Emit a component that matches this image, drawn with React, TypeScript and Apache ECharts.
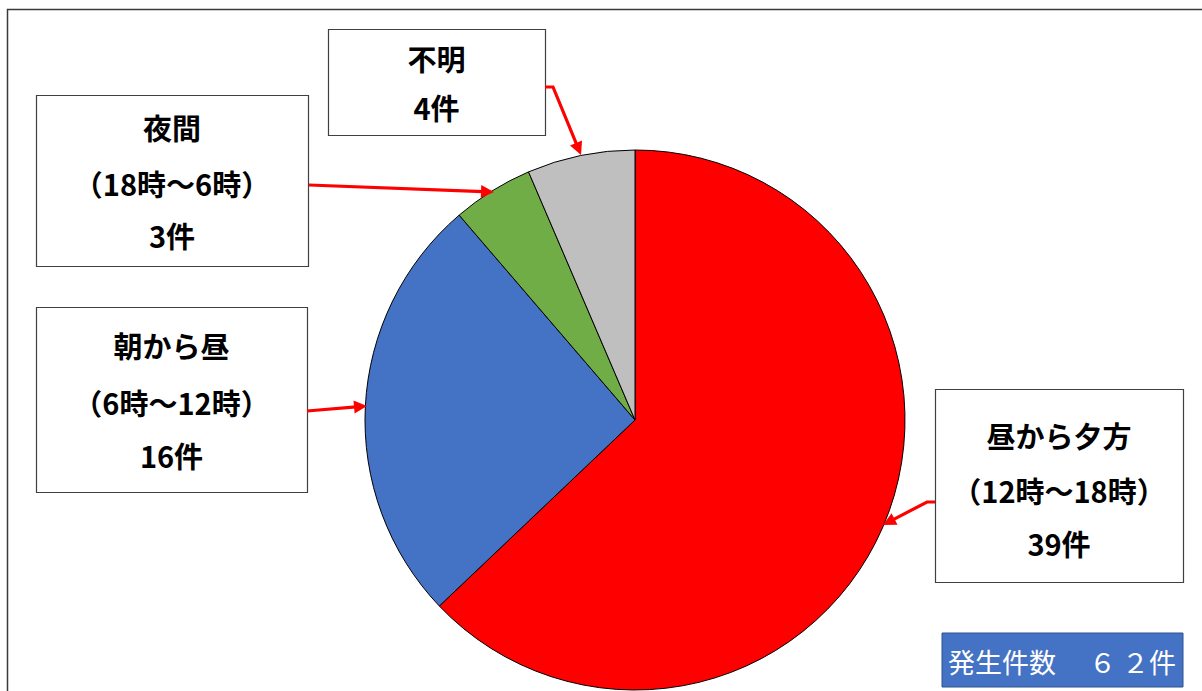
import React, { useEffect, useRef } from "react";
import * as echarts from "echarts";

const categories = ["昼から夕方", "朝から昼", "夜間", "不明"];
const timeRanges = ["（12時～18時）", "（6時～12時）", "（18時～6時）", ""];
const counts = [39, 16, 3, 4];
const colors = ["#FF0000", "#4472C4", "#70AD47", "#BFBFBF"];
const totalLabel = "発生件数";

const FONT = '"Noto Sans CJK JP", "Noto Sans", sans-serif';

// layout of annotation boxes (positions only)
const boxes = [
  { x: 935, y: 389, w: 248, h: 193, ys: [435, 490, 543], arrow: [[935, 502], [927, 502], [883, 525]] },
  { x: 36, y: 307, w: 271, h: 185, ys: [345, 402, 455], arrow: [[307, 411], [367, 406]] },
  { x: 36, y: 95, w: 272, h: 171, ys: [127, 183, 235], arrow: [[309, 185], [494, 192]] },
  { x: 328, y: 29, w: 217, h: 106, ys: [58, 107], arrow: [[545, 87], [553, 87], [581, 155]] },
];

function toFullWidth(n: number): string {
  return String(n).replace(/[0-9]/g, (d) => String.fromCharCode(d.charCodeAt(0) + 0xfee0)).split("").join(" ");
}

function arrowElements(pts: number[][]) {
  const els: any[] = [];
  const n = pts.length;
  const [x1, y1] = pts[n - 2];
  const [x2, y2] = pts[n - 1];
  const dx = x2 - x1, dy = y2 - y1;
  const len = Math.sqrt(dx * dx + dy * dy);
  const ux = dx / len, uy = dy / len;
  const L = 13, W = 6.5;
  const bx = x2 - ux * L, by = y2 - uy * L;
  const linePts = pts.slice(0, n - 1).concat([[bx + ux * 2, by + uy * 2]]);
  els.push({
    type: "polyline",
    shape: { points: linePts },
    style: { stroke: "#FF0000", lineWidth: 3.2, fill: null, lineJoin: "miter" },
    z: 10,
  });
  els.push({
    type: "polygon",
    shape: {
      points: [
        [x2, y2],
        [bx - uy * W, by + ux * W],
        [bx + uy * W, by - ux * W],
      ],
    },
    style: { fill: "#FF0000" },
    z: 10,
  });
  return els;
}

export default function App() {
  const ref = useRef<HTMLDivElement>(null);
  useEffect(() => {
    if (!ref.current) return;
    const chart = echarts.init(ref.current, undefined, { renderer: "svg" });
    const total = counts.reduce((a, b) => a + b, 0);
    const graphics: any[] = [];
    graphics.push({
      type: "rect",
      shape: { x: 7.5, y: 9.5, width: 1250, height: 720 },
      style: { fill: null, stroke: "#3a3a3a", lineWidth: 1.5 },
      z: 1,
    });
    boxes.forEach((b, i) => {
      graphics.push({
        type: "rect",
        shape: { x: b.x + 0.5, y: b.y + 0.5, width: b.w, height: b.h },
        style: { fill: "#ffffff", stroke: "#404040", lineWidth: 1.2 },
        z: 5,
      });
      const lines = [categories[i]];
      if (timeRanges[i]) lines.push(timeRanges[i]);
      lines.push(counts[i] + "件");
      lines.forEach((t, j) => {
        graphics.push({
          type: "text",
          x: b.x + b.w / 2,
          y: b.ys[j],
          style: {
            text: t,
            fill: "#000000",
            font: `bold 29px ${FONT}`,
            textAlign: "center",
            textVerticalAlign: "middle",
          },
          z: 6,
        });
      });
      arrowElements(b.arrow).forEach((e) => graphics.push(e));
    });
    graphics.push({
      type: "rect",
      shape: { x: 942, y: 633, width: 241, height: 54 },
      style: { fill: "#4472C4", stroke: "#2F528F", lineWidth: 1 },
      z: 5,
    });
    graphics.push({
      type: "text",
      x: 948,
      y: 661,
      style: {
        text: totalLabel + "　 " + toFullWidth(total) + "件",
        fill: "#ffffff",
        font: `27px ${FONT}`,
        textAlign: "left",
        textVerticalAlign: "middle",
      },
      z: 6,
    });

    chart.setOption({
      animation: false,
      backgroundColor: "#ffffff",
      series: [
        {
          type: "pie",
          center: [635, 420],
          radius: 270,
          startAngle: 90,
          clockwise: true,
          label: { show: false },
          labelLine: { show: false },
          itemStyle: { borderColor: "#000000", borderWidth: 1 },
          emphasis: { disabled: true },
          data: categories.map((c, i) => ({
            name: c,
            value: counts[i],
            itemStyle: { color: colors[i] },
          })),
        },
      ],
      graphic: graphics,
    });
    return () => chart.dispose();
  }, []);
  return (
    <div
      ref={ref}
      style={{ position: "fixed", left: 0, top: 0, width: 1202, height: 691 }}
    />
  );
}
